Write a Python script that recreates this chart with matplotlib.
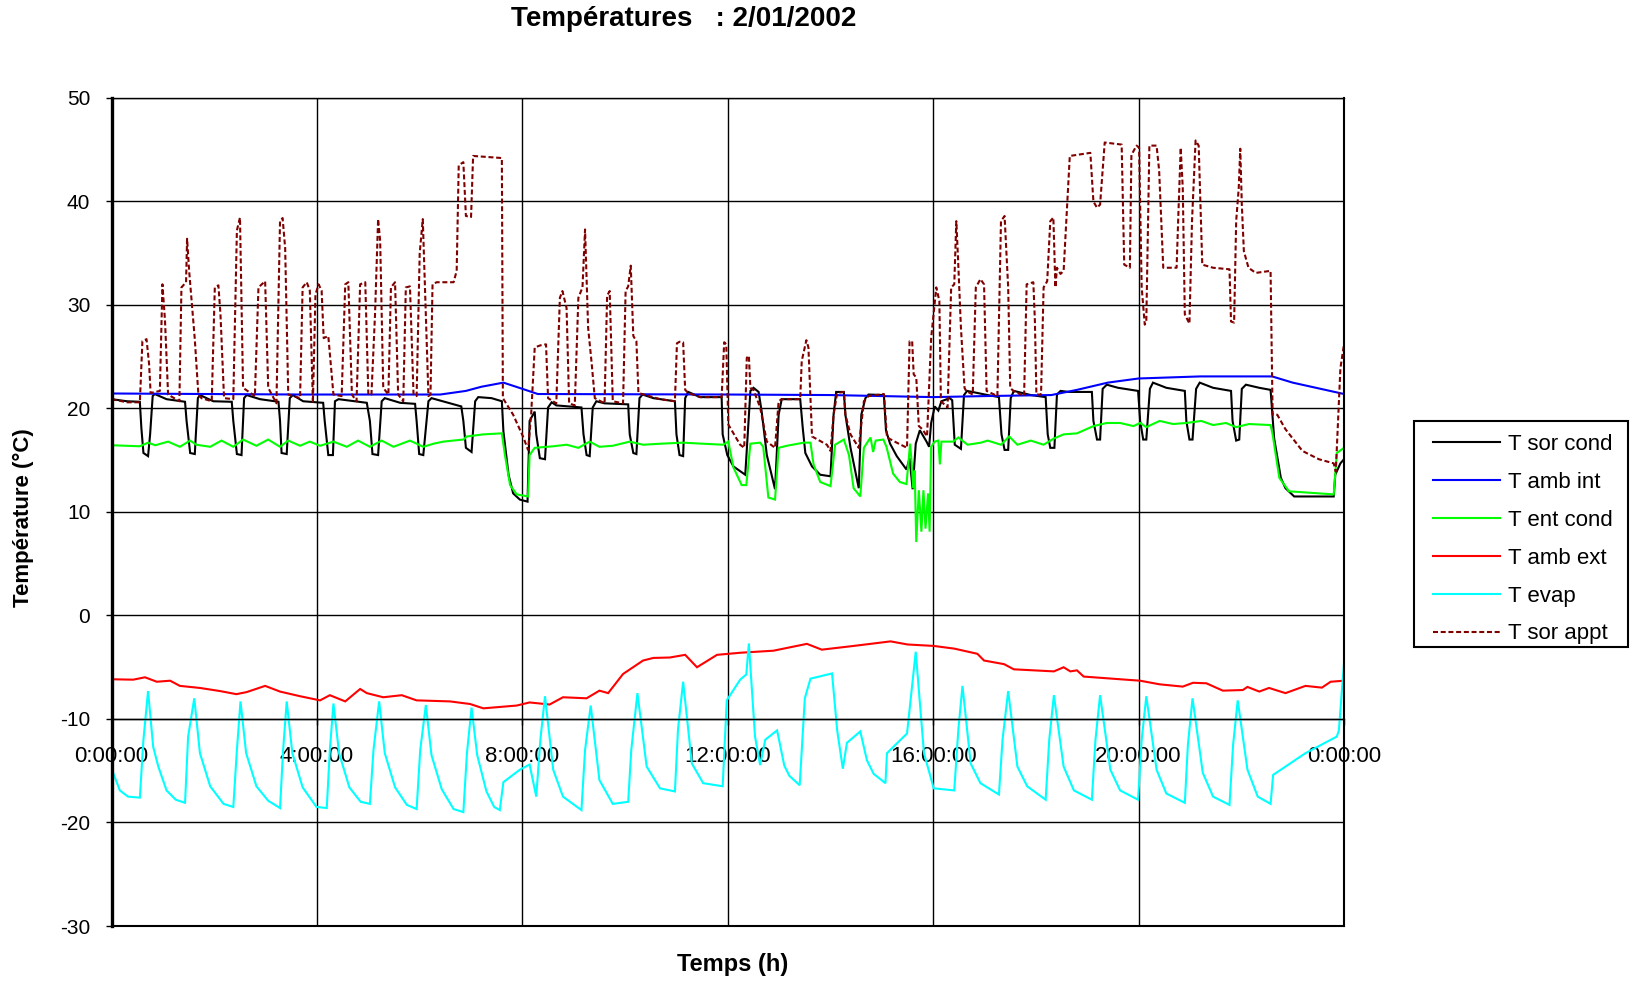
import matplotlib
matplotlib.use("Agg")
import matplotlib.pyplot as plt
from matplotlib.patches import Rectangle

plt.rcParams['font.family'] = ['Liberation Sans', 'DejaVu Sans']
plt.rcParams['axes.unicode_minus'] = False

# ---- measured series: (time in hours, temperature in °C) ----
sor_cond = [
    (0.00, 20.9), (0.30, 20.7), (0.55, 20.65), (0.58, 18.1), (0.62, 15.7), (0.71, 15.4), (0.75, 17.5),
    (0.80, 21.2), (0.84, 21.4), (1.07, 20.9), (1.43, 20.65), (1.46, 18.8), (1.53, 15.7), (1.62, 15.6),
    (1.68, 21.0), (1.72, 21.3), (1.98, 20.7), (2.34, 20.65), (2.37, 18.8), (2.44, 15.6), (2.53, 15.5),
    (2.58, 21.0), (2.63, 21.3), (2.89, 20.9), (3.25, 20.65), (3.28, 18.8), (3.31, 15.7), (3.41, 15.6),
    (3.47, 21.0), (3.53, 21.3), (3.73, 20.7), (4.12, 20.55), (4.15, 18.8), (4.22, 15.5), (4.31, 15.5),
    (4.35, 20.7), (4.42, 20.9), (4.97, 20.55), (5.03, 18.8), (5.08, 15.6), (5.19, 15.5), (5.26, 20.7),
    (5.32, 21.0), (5.62, 20.55), (5.91, 20.45), (5.94, 18.8), (5.99, 15.6), (6.07, 15.5), (6.17, 20.7),
    (6.23, 21.0), (6.81, 20.2), (6.85, 18.8), (6.90, 16.2), (7.01, 15.8), (7.08, 20.7), (7.14, 21.1),
    (7.40, 21.0), (7.60, 20.7), (7.63, 17.8), (7.73, 13.6), (7.82, 11.8), (7.95, 11.2), (8.10, 11.0),
    (8.14, 18.8), (8.24, 19.7), (8.27, 17.5), (8.34, 15.2), (8.44, 15.1), (8.50, 20.1), (8.57, 20.6),
    (8.66, 20.3), (9.15, 20.1), (9.19, 17.5), (9.25, 15.5), (9.31, 15.4), (9.37, 20.1), (9.44, 20.7),
    (9.60, 20.5), (10.06, 20.4), (10.09, 17.5), (10.16, 15.7), (10.22, 15.6), (10.28, 21.0), (10.34, 21.35),
    (10.55, 21.0), (10.97, 20.7), (11.00, 17.5), (11.06, 15.5), (11.13, 15.4), (11.17, 21.0), (11.23, 21.6),
    (11.46, 21.1), (11.88, 21.1), (11.90, 17.5), (11.99, 15.5), (12.11, 14.4), (12.34, 13.6), (12.38, 16.8),
    (12.44, 21.7), (12.50, 22.0), (12.60, 21.6), (12.66, 19.7), (12.76, 15.5), (12.92, 12.2), (12.99, 19.4),
    (13.05, 20.9), (13.41, 20.9), (13.46, 18.1), (13.51, 15.7), (13.64, 14.4), (13.80, 13.6), (14.00, 13.45),
    (14.06, 19.4), (14.11, 21.6), (14.26, 21.6), (14.29, 19.4), (14.39, 16.2), (14.55, 12.3), (14.60, 19.4),
    (14.68, 21.0), (14.74, 21.35), (15.04, 21.3), (15.08, 17.9), (15.16, 16.6), (15.29, 15.4), (15.48, 14.1),
    (15.54, 15.2), (15.60, 12.2), (15.66, 16.6), (15.74, 17.9), (15.80, 17.4), (15.87, 16.8), (15.92, 16.3),
    (15.96, 18.6), (16.03, 20.2), (16.10, 19.8), (16.16, 20.7), (16.32, 21.0), (16.37, 20.8), (16.42, 16.5),
    (16.54, 16.1), (16.60, 21.3), (16.66, 21.7), (17.06, 21.3), (17.28, 21.1), (17.33, 17.5), (17.39, 16.0),
    (17.46, 16.0), (17.51, 21.0), (17.57, 21.7), (17.90, 21.3), (18.19, 21.1), (18.23, 17.5), (18.28, 16.2),
    (18.36, 16.2), (18.41, 21.35), (18.48, 21.7), (18.64, 21.6), (19.09, 21.6), (19.12, 18.8), (19.19, 17.0),
    (19.25, 17.0), (19.30, 21.9), (19.38, 22.3), (19.60, 22.0), (19.99, 21.7), (20.03, 18.8), (20.09, 17.0),
    (20.15, 17.0), (20.22, 21.9), (20.28, 22.5), (20.54, 22.0), (20.90, 21.7), (20.93, 18.8), (20.99, 17.0),
    (21.05, 17.0), (21.12, 21.9), (21.19, 22.5), (21.45, 22.0), (21.80, 21.7), (21.83, 18.8), (21.90, 16.9),
    (21.96, 17.0), (22.01, 21.9), (22.09, 22.3), (22.35, 22.0), (22.57, 21.8), (22.64, 17.1), (22.77, 13.3),
    (22.86, 12.3), (23.03, 11.5), (23.80, 11.5), (23.83, 13.6), (23.93, 14.7), (24.00, 15.1),
]

amb_int = [
    (0.00, 21.45), (3.70, 21.35), (6.40, 21.35), (6.90, 21.7), (7.20, 22.1), (7.63, 22.5), (8.00, 21.9),
    (8.30, 21.4), (12.00, 21.35), (14.00, 21.3), (16.00, 21.1), (17.00, 21.2), (18.30, 21.3), (18.80, 21.8),
    (19.40, 22.5), (20.00, 22.9), (21.20, 23.1), (22.60, 23.1), (23.00, 22.5), (24.00, 21.4),
]

ent_cond = [
    (0.00, 16.45), (0.55, 16.35), (0.71, 16.7), (0.85, 16.45), (1.10, 16.8), (1.33, 16.3), (1.53, 16.9),
    (1.65, 16.5), (1.92, 16.3), (2.14, 16.9), (2.37, 16.3), (2.56, 17.0), (2.82, 16.4), (3.05, 17.0),
    (3.28, 16.3), (3.44, 16.9), (3.67, 16.4), (3.86, 16.8), (4.06, 16.4), (4.32, 16.8), (4.58, 16.3),
    (4.80, 16.9), (5.03, 16.3), (5.26, 16.9), (5.49, 16.3), (5.81, 16.9), (6.07, 16.3), (6.27, 16.6),
    (6.46, 16.8), (6.85, 17.0), (6.92, 17.3), (7.24, 17.5), (7.60, 17.6), (7.66, 15.5), (7.76, 12.6),
    (7.89, 11.7), (8.11, 11.5), (8.14, 15.5), (8.24, 16.2), (8.60, 16.35), (8.86, 16.5), (9.09, 16.2),
    (9.31, 16.8), (9.50, 16.3), (9.76, 16.4), (10.09, 16.8), (10.35, 16.5), (10.70, 16.6), (11.13, 16.7),
    (11.50, 16.6), (11.91, 16.5), (12.01, 16.8), (12.11, 14.3), (12.27, 12.6), (12.36, 12.6), (12.44, 16.6),
    (12.63, 16.7), (12.69, 16.3), (12.79, 11.4), (12.92, 11.2), (12.99, 16.2), (13.15, 16.4), (13.48, 16.7),
    (13.61, 16.7), (13.67, 14.6), (13.80, 12.9), (14.00, 12.5), (14.09, 16.5), (14.26, 17.0), (14.36, 15.5),
    (14.45, 12.3), (14.58, 11.5), (14.65, 16.2), (14.78, 17.2), (14.83, 15.8), (14.88, 16.9), (15.03, 17.0),
    (15.09, 16.3), (15.22, 13.7), (15.35, 12.9), (15.48, 12.7), (15.55, 16.6), (15.58, 14.8), (15.61, 12.3),
    (15.64, 14.0), (15.67, 7.1), (15.72, 12.1), (15.77, 8.1), (15.81, 12.1), (15.85, 8.4), (15.90, 11.8),
    (15.93, 8.1), (15.96, 16.3), (16.03, 16.8), (16.10, 16.9), (16.13, 14.6), (16.16, 16.8), (16.39, 16.8),
    (16.49, 17.2), (16.67, 16.5), (16.93, 16.7), (17.06, 16.9), (17.32, 16.5), (17.48, 17.3), (17.64, 16.5),
    (17.90, 16.9), (18.15, 16.5), (18.35, 17.1), (18.54, 17.5), (18.80, 17.6), (19.12, 18.3), (19.38, 18.6),
    (19.64, 18.6), (19.90, 18.3), (20.03, 18.6), (20.15, 18.2), (20.41, 18.8), (20.67, 18.5), (20.93, 18.6),
    (21.22, 18.8), (21.45, 18.4), (21.70, 18.6), (21.90, 18.2), (22.15, 18.5), (22.57, 18.4), (22.61, 17.5),
    (22.74, 13.3), (22.93, 12.0), (23.80, 11.7), (23.86, 15.7), (24.00, 16.2),
]

amb_ext = [
    (0.00, -6.16), (0.42, -6.2), (0.65, -5.97), (0.88, -6.4), (1.14, -6.3), (1.33, -6.8), (1.72, -7.0),
    (2.11, -7.3), (2.43, -7.6), (2.63, -7.4), (2.99, -6.8), (3.28, -7.35), (3.67, -7.8), (4.06, -8.2),
    (4.25, -7.7), (4.55, -8.3), (4.84, -7.1), (4.97, -7.5), (5.29, -7.9), (5.65, -7.7), (5.94, -8.2),
    (6.59, -8.3), (6.98, -8.55), (7.24, -8.97), (7.89, -8.7), (8.14, -8.4), (8.53, -8.6), (8.79, -7.9),
    (9.25, -8.0), (9.50, -7.26), (9.67, -7.5), (9.96, -5.65), (10.35, -4.35), (10.55, -4.1), (10.87, -4.06),
    (11.17, -3.8), (11.40, -5.0), (11.79, -3.8), (12.24, -3.6), (12.89, -3.4), (13.54, -2.74), (13.83, -3.3),
    (14.45, -2.94), (15.17, -2.5), (15.50, -2.8), (16.01, -2.94), (16.41, -3.2), (16.86, -3.7), (16.99, -4.35),
    (17.38, -4.7), (17.57, -5.2), (18.35, -5.4), (18.54, -5.0), (18.67, -5.4), (18.80, -5.3), (18.93, -5.9),
    (19.64, -6.16), (20.03, -6.3), (20.41, -6.65), (20.86, -6.87), (21.06, -6.5), (21.32, -6.55), (21.64, -7.26),
    (22.03, -7.2), (22.12, -6.9), (22.35, -7.35), (22.54, -7.0), (22.86, -7.5), (23.25, -6.8), (23.57, -6.97),
    (23.74, -6.4), (24.00, -6.3),
]

evap = [
    (0.00, -14.8), (0.16, -16.9), (0.32, -17.5), (0.55, -17.6), (0.62, -12.0), (0.71, -7.3), (0.81, -12.7),
    (0.91, -14.6), (1.07, -16.9), (1.25, -17.8), (1.43, -18.1), (1.49, -11.7), (1.61, -8.0), (1.72, -13.3),
    (1.92, -16.5), (2.18, -18.2), (2.37, -18.5), (2.44, -13.0), (2.51, -8.3), (2.62, -13.3), (2.82, -16.5),
    (3.05, -17.9), (3.28, -18.6), (3.34, -13.0), (3.41, -8.3), (3.52, -13.3), (3.72, -16.6), (3.99, -18.5),
    (4.19, -18.6), (4.25, -13.0), (4.32, -8.5), (4.43, -13.3), (4.63, -16.6), (4.85, -18.0), (5.03, -18.2),
    (5.10, -13.0), (5.21, -8.3), (5.32, -13.3), (5.52, -16.6), (5.75, -18.3), (5.94, -18.7), (6.01, -13.0),
    (6.12, -8.65), (6.23, -13.5), (6.43, -16.8), (6.66, -18.7), (6.85, -19.0), (6.92, -13.3), (7.01, -8.9),
    (7.12, -13.5), (7.30, -17.0), (7.45, -18.5), (7.56, -18.8), (7.63, -16.1), (7.95, -14.9), (8.14, -14.4),
    (8.27, -17.5), (8.35, -12.0), (8.44, -7.8), (8.60, -14.9), (8.79, -17.5), (9.15, -18.8), (9.22, -13.0),
    (9.33, -8.7), (9.50, -15.9), (9.76, -18.2), (10.06, -18.0), (10.12, -13.0), (10.24, -7.5), (10.42, -14.6),
    (10.68, -16.7), (10.97, -17.0), (11.03, -11.0), (11.13, -6.4), (11.30, -14.3), (11.52, -16.2), (11.90, -16.5),
    (11.98, -8.2), (12.24, -6.2), (12.36, -5.7), (12.41, -2.7), (12.53, -11.7), (12.63, -14.45), (12.73, -12.0),
    (12.96, -11.1), (13.10, -14.5), (13.20, -15.5), (13.40, -16.4), (13.50, -8.0), (13.61, -6.1), (14.03, -5.6),
    (14.13, -11.1), (14.24, -14.8), (14.32, -12.3), (14.58, -11.2), (14.71, -14.0), (14.84, -15.3), (15.07, -16.2),
    (15.10, -13.3), (15.49, -11.4), (15.66, -3.5), (15.82, -13.3), (16.01, -16.7), (16.41, -16.9), (16.49, -11.0),
    (16.57, -6.8), (16.73, -14.3), (16.92, -16.2), (17.28, -17.3), (17.35, -12.0), (17.46, -7.3), (17.64, -14.6),
    (17.83, -16.5), (18.19, -17.8), (18.26, -12.0), (18.35, -7.7), (18.54, -14.6), (18.74, -16.9), (19.09, -17.8),
    (19.16, -12.0), (19.25, -7.7), (19.45, -14.9), (19.64, -16.9), (19.99, -17.8), (20.06, -12.0), (20.15, -7.8),
    (20.35, -14.9), (20.54, -17.2), (20.90, -18.1), (20.96, -12.5), (21.05, -8.0), (21.25, -15.2), (21.45, -17.5),
    (21.77, -18.3), (21.84, -12.5), (21.93, -8.2), (22.12, -14.9), (22.32, -17.5), (22.57, -18.2), (22.62, -15.4),
    (22.86, -14.6), (23.25, -13.3), (23.86, -11.7), (23.90, -11.1), (24.00, -4.6),
]

sor_appt = [
    (0.00, 20.9), (0.30, 20.6), (0.55, 20.6), (0.60, 26.5), (0.68, 26.7), (0.73, 24.3), (0.76, 21.5),
    (0.94, 21.7), (0.99, 32.0), (1.04, 28.5), (1.10, 21.35), (1.32, 20.7), (1.36, 31.7), (1.45, 32.2),
    (1.47, 36.4), (1.51, 33.3), (1.62, 26.7), (1.69, 21.35), (1.75, 21.0), (1.95, 20.7), (2.01, 31.7),
    (2.08, 31.9), (2.12, 29.1), (2.19, 21.0), (2.37, 20.9), (2.44, 37.2), (2.50, 38.45), (2.56, 22.0),
    (2.79, 21.2), (2.86, 31.7), (2.99, 32.3), (3.05, 22.0), (3.21, 20.5), (3.28, 38.1), (3.33, 38.4),
    (3.38, 35.5), (3.44, 21.35), (3.67, 21.0), (3.72, 31.7), (3.80, 32.2), (3.86, 31.4), (3.92, 20.55),
    (3.97, 31.0), (4.03, 32.0), (4.09, 31.4), (4.13, 26.8), (4.22, 27.0), (4.32, 21.35), (4.48, 21.2),
    (4.55, 32.0), (4.61, 32.2), (4.68, 21.35), (4.77, 20.7), (4.84, 32.0), (4.94, 32.2), (5.00, 21.35),
    (5.06, 21.35), (5.13, 29.1), (5.19, 38.3), (5.23, 36.2), (5.29, 22.0), (5.39, 21.35), (5.44, 31.7),
    (5.52, 32.2), (5.58, 21.35), (5.68, 20.7), (5.73, 31.7), (5.81, 31.8), (5.88, 21.35), (5.94, 21.2),
    (6.00, 35.0), (6.06, 38.3), (6.12, 29.1), (6.17, 21.2), (6.21, 21.35), (6.25, 32.0), (6.33, 32.2),
    (6.66, 32.2), (6.72, 33.3), (6.76, 43.5), (6.85, 43.8), (6.90, 38.6), (7.00, 38.5), (7.04, 44.4),
    (7.60, 44.2), (7.62, 21.0), (7.82, 19.4), (8.02, 17.2), (8.11, 16.0), (8.17, 19.4), (8.24, 25.9),
    (8.35, 26.1), (8.46, 26.2), (8.50, 21.0), (8.66, 20.5), (8.73, 30.7), (8.78, 31.35), (8.86, 29.7),
    (8.91, 20.5), (9.02, 20.3), (9.09, 30.7), (9.17, 31.7), (9.22, 37.3), (9.28, 27.8), (9.35, 24.3),
    (9.41, 21.0), (9.60, 20.5), (9.65, 30.9), (9.70, 31.35), (9.76, 20.7), (9.96, 20.5), (10.01, 31.35),
    (10.06, 31.8), (10.11, 33.8), (10.16, 27.0), (10.22, 26.5), (10.26, 21.5), (10.68, 20.9), (10.97, 20.7),
    (11.01, 26.3), (11.06, 26.45), (11.13, 26.4), (11.17, 21.8), (11.23, 21.5), (11.46, 21.1), (11.88, 21.1),
    (11.93, 26.4), (11.97, 26.2), (12.01, 18.45), (12.24, 16.5), (12.32, 16.2), (12.37, 24.9), (12.41, 25.1),
    (12.44, 22.0), (12.50, 21.8), (12.63, 20.1), (12.76, 16.8), (12.92, 16.2), (12.99, 20.7), (13.05, 20.9),
    (13.41, 20.9), (13.44, 24.6), (13.53, 26.6), (13.57, 25.9), (13.64, 17.3), (13.93, 16.5), (14.00, 15.9),
    (14.06, 19.4), (14.13, 21.5), (14.26, 21.6), (14.29, 19.4), (14.39, 17.5), (14.55, 16.2), (14.65, 20.7),
    (14.74, 21.2), (15.04, 21.4), (15.10, 17.2), (15.29, 16.7), (15.49, 16.2), (15.54, 26.5), (15.59, 26.5),
    (15.62, 23.3), (15.67, 23.0), (15.72, 18.3), (15.79, 18.0), (15.88, 17.3), (15.96, 26.8), (16.06, 31.7),
    (16.12, 30.4), (16.15, 20.7), (16.28, 20.1), (16.35, 31.7), (16.41, 32.0), (16.45, 38.1), (16.48, 34.9),
    (16.54, 27.8), (16.61, 22.0), (16.64, 21.7), (16.77, 21.35), (16.83, 31.7), (16.92, 32.5), (16.99, 32.0),
    (17.04, 21.7), (17.25, 21.2), (17.32, 38.1), (17.39, 38.6), (17.46, 31.7), (17.50, 22.0), (17.56, 21.7),
    (17.77, 21.2), (17.82, 32.0), (17.95, 32.2), (17.98, 28.5), (18.01, 21.35), (18.10, 21.35), (18.15, 31.7),
    (18.22, 32.3), (18.28, 38.1), (18.34, 38.45), (18.38, 31.7), (18.41, 33.6), (18.48, 33.0), (18.54, 33.3),
    (18.61, 39.7), (18.66, 44.4), (18.93, 44.6), (19.06, 44.7), (19.12, 40.0), (19.19, 39.4), (19.25, 39.7),
    (19.34, 45.7), (19.67, 45.5), (19.72, 33.9), (19.83, 33.6), (19.86, 44.5), (19.96, 45.4), (20.01, 45.2),
    (20.06, 31.7), (20.12, 28.1), (20.15, 28.4), (20.21, 45.4), (20.35, 45.4), (20.40, 43.0), (20.48, 33.6),
    (20.74, 33.6), (20.77, 38.1), (20.82, 45.2), (20.86, 41.3), (20.90, 29.1), (20.99, 28.2), (21.04, 38.1),
    (21.11, 45.9), (21.17, 45.4), (21.24, 33.9), (21.45, 33.6), (21.77, 33.45), (21.80, 28.4), (21.86, 28.3),
    (21.90, 38.1), (21.95, 41.3), (21.98, 45.1), (22.01, 39.7), (22.05, 35.2), (22.14, 33.6), (22.28, 33.1),
    (22.57, 33.3), (22.61, 19.4), (22.70, 19.4), (22.86, 18.0), (23.19, 15.9), (23.51, 15.1), (23.80, 14.7),
    (23.84, 13.9), (23.93, 23.9), (24.00, 26.2),
]

# axis ticks and labels
hour_ticks = [0, 4, 8, 12, 16, 20, 24]
hour_labels = ["0:00:00", "4:00:00", "8:00:00", "12:00:00", "16:00:00", "20:00:00", "0:00:00"]
temp_ticks = [-30, -20, -10, 0, 10, 20, 30, 40, 50]

series = [
    ("T sor cond", sor_cond, "#000000", "-"),
    ("T amb int", amb_int, "#0000FF", "-"),
    ("T ent cond", ent_cond, "#00FF00", "-"),
    ("T amb ext", amb_ext, "#FF0000", "-"),
    ("T evap", evap, "#00FFFF", "-"),
    ("T sor appt", sor_appt, "#800000", "--"),
]

W, H = 1635, 981
fig = plt.figure(figsize=(W / 100, H / 100), dpi=100)
left, right, top, bottom = 111.6, 1344.0, 98.0, 926.0
ax = fig.add_axes([left / W, 1 - bottom / H, (right - left) / W, (bottom - top) / H])

handles = []
for name, pts, color, ls in series:
    t = [p[0] for p in pts]
    v = [p[1] for p in pts]
    line, = ax.plot(t, v, color=color, lw=1.5, label=name, solid_joinstyle='miter')
    if ls == "--":
        line.set_dashes((2.4, 1.3))
    handles.append(line)

ax.set_xlim(0, 24)
ax.set_ylim(-30, 50)
ax.set_xticks(hour_ticks)
ax.set_xticklabels(hour_labels)
ax.set_yticks(temp_ticks)
ax.set_yticklabels([str(v) for v in temp_ticks])

ax.set_axisbelow(True)
ax.grid(True, color="black", lw=1.0)

# category axis crosses the value axis at -10
ax.spines["bottom"].set_position(("data", -10))
ax.spines["bottom"].set_linewidth(1.0)
ax.spines["left"].set_linewidth(2.4)
ax.spines["top"].set_linewidth(1.0)
ax.spines["right"].set_linewidth(1.5)
ax.axhline(-30, color="black", lw=1.5, clip_on=False, zorder=3)

ax.tick_params(axis="y", direction="out", length=4.3, width=1.0, pad=11, labelsize=15)
ax.tick_params(axis="x", direction="out", length=4.3, width=1.0, pad=15, labelsize=16)

fig.text(684 / W, 1 - 19 / H, "Températures   : 2/01/2002", ha="center", va="center",
         fontsize=20, fontweight="bold")
fig.text(23 / W, 1 - 517.7 / H, "Température (°C)", rotation=90, ha="center", va="center",
         fontsize=16, fontweight="bold")
fig.text(732.5 / W, 1 - 965 / H, "Temps (h)", ha="center", va="center",
         fontsize=17, fontweight="bold")

# legend frame and entries
fig.patches.append(Rectangle((1414 / W, 1 - 646.5 / H), (1628 - 1414) / W, (646.5 - 421) / H,
                             transform=fig.transFigure, facecolor="white", edgecolor="black",
                             lw=1.5, zorder=5))
leg = fig.legend(handles=handles, loc="upper left", bbox_to_anchor=(1433 / W, 1 - 434 / H),
                 frameon=False, fontsize=16, handlelength=3.0, handletextpad=0.37,
                 labelspacing=0.76, borderpad=0, borderaxespad=0)
leg.set_zorder(6)

fig.savefig("out.png", dpi=100)
